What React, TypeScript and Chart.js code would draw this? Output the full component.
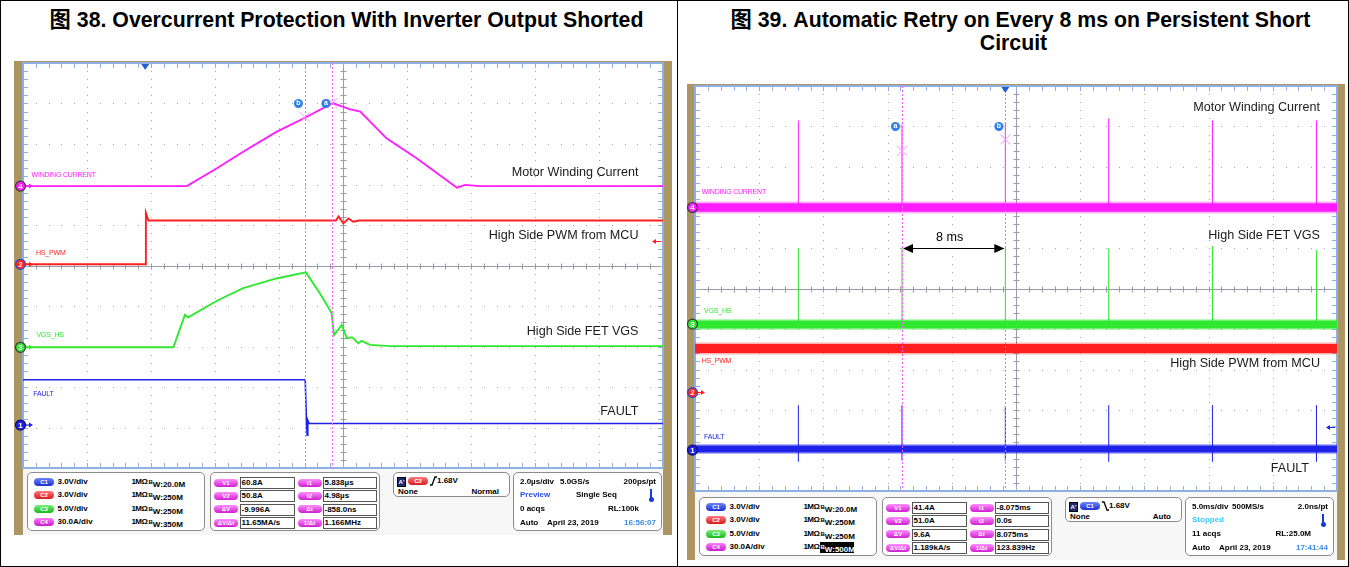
import React, { useEffect, useRef } from "react";
import { Chart, registerables } from "chart.js";

Chart.register(...registerables);

const FONT = '"Liberation Sans", Arial, Helvetica, "Noto Sans CJK SC", sans-serif';
const TAN = "#ab9663";
const MAGENTA = "#ff1cff";
const RED = "#ff1f1f";
const GREEN = "#30e830";
const BLUE = "#1f22e8";

// ---------------- Fig 38 : 2.0 µs/div, vertical position in divisions (0..10) ----------------
const f38TimeMax = 20;
const f38C4Time = [0, 5.12, 6.06, 6.88, 7.92, 8.84, 9.68, 10.2, 10.54, 11.36, 12.3, 13.56, 13.82, 14.28, 20];
const f38C4Level = [6.96, 6.96, 7.4, 7.81, 8.3, 8.66, 9.01, 8.86, 8.8, 8.14, 7.65, 6.92, 6.99, 6.96, 6.96];
const f38C2Time = [0, 3.84, 3.84, 3.92, 9.78, 9.86, 10.01, 10.17, 10.32, 10.5, 20];
const f38C2Level = [5.03, 5.03, 6.3, 6.11, 6.11, 6.21, 6.04, 6.16, 6.08, 6.11, 6.11];
const f38C3Time = [0, 4.7, 5.06, 5.16, 6.06, 6.88, 7.92, 8.84, 9.28, 9.64, 9.72, 9.96, 10.12, 10.28, 10.48, 10.58, 10.84, 11.5, 20];
const f38C3Level = [2.98, 2.98, 3.78, 3.72, 4.13, 4.44, 4.68, 4.83, 4.31, 3.83, 3.28, 3.53, 3.2, 3.23, 3.08, 3.14, 3.04, 3.01, 3.01];
const f38C1Time = [0, 8.82, 8.86, 8.88, 8.9, 8.94, 20];
const f38C1Level = [2.18, 2.18, 1.1, 0.81, 1.18, 1.1, 1.1];
const f38CursorTimes = [8.81, 9.67];
const f38CursorLabels = ["b", "a"];
const f38CursorLevels = [8.66, 9.01];
const f38ChannelLevels = [1.06, 5.03, 2.98, 6.96];
const f38TriggerTime = 3.82;
const f38TriggerLevel = 5.6;

// ---------------- Fig 39 : 5.0 ms/div ----------------
const f39TimeMax = 50;
const f39SpikeTimes = [8.05, 16.12, 24.17, 32.22, 40.3, 48.4];
const f39C4Base = 7.0;
const f39C4SpikeTop = [9.15, 9.05, 9.1, 9.2, 9.15, 9.15];
const f39C3Base = 4.11;
const f39C3SpikeTop = [6.0, 6.0, 6.0, 6.0, 6.05, 5.95];
const f39C2Base = 3.52;
const f39C1Base = 1.04;
const f39C1SpikeTop = [2.12, 2.12, 2.1, 2.12, 2.12, 2.12];
const f39C1SpikeBottom = [0.72, 0.75, 0.75, 0.72, 0.72, 0.72];
const f39CursorTimes = [16.12, 24.17];
const f39CursorLabels = ["a", "b"];
const f39CursorLevels = [8.4, 8.68];
const f39ChannelLevels = [1.01, 2.43, 4.12, 7.0];
const f39TriggerTime = 24.17;
const f39TriggerLevel = 1.59;
const f39MeasureFrom = 16.12;
const f39MeasureTo = 24.17;
const f39MeasureLevel = 6.01;

const CH_FILL = [BLUE, RED, GREEN, MAGENTA];
const CH_RING = ["#0b0b70", "#2a50d8", "#3a3a3a", "#3a3a3a"];

type ScopeCfg = {
  cursorTimes: number[];
  cursorLevels: number[];
  cursorLabels: string[];
  channelLevels: number[];
  triggerTime: number;
  triggerLevel: number;
  triggerColor: string;
  measure?: { from: number; to: number; level: number };
};

function pts(t: number[], v: number[]) {
  return t.map((x, i) => ({ x, y: v[i] }));
}

function spikes(t: number[], lo: number[] | number, hi: number[]) {
  const out: any[] = [];
  t.forEach((x, i) => {
    const l = Array.isArray(lo) ? lo[i] : lo;
    out.push({ x, y: l }, { x, y: hi[i] }, { x, y: null });
  });
  return out;
}

function makeScopePlugin(cfg: ScopeCfg) {
  return {
    id: "scope",
    beforeDatasetsDraw(chart: any) {
      const { ctx, chartArea: a, scales } = chart;
      const xs = scales.x;
      const ys = scales.y;
      const xAt = (i: number) => xs.getPixelForValue(xs.min + (i * (xs.max - xs.min)) / 10);
      const yAt = (j: number) => ys.getPixelForValue(ys.min + (j * (ys.max - ys.min)) / 10);
      ctx.save();
      ctx.fillStyle = "#ffffff";
      ctx.fillRect(a.left, a.top, a.right - a.left, a.bottom - a.top);
      // dotted graticule
      ctx.fillStyle = "#a4a4a4";
      for (let i = 1; i < 10; i++) {
        if (i === 5) continue;
        const px = Math.round(xAt(i));
        for (let k = 1; k < 50; k++) ctx.fillRect(px, Math.round(yAt(k / 5)), 1, 1);
        const py = Math.round(yAt(i));
        for (let k = 1; k < 50; k++) ctx.fillRect(Math.round(xAt(k / 5)), py, 1, 1);
      }
      // centre cross
      ctx.strokeStyle = "#9a9aac";
      ctx.lineWidth = 1;
      const cx = Math.round(xAt(5)) + 0.5;
      const cy = Math.round(yAt(5)) + 0.5;
      ctx.beginPath();
      ctx.moveTo(cx, a.top);
      ctx.lineTo(cx, a.bottom);
      ctx.moveTo(a.left, cy);
      ctx.lineTo(a.right, cy);
      for (let k = 1; k < 50; k++) {
        const px = Math.round(xAt(k / 5)) + 0.5;
        ctx.moveTo(px, cy - 3);
        ctx.lineTo(px, cy + 3);
        const py = Math.round(yAt(k / 5)) + 0.5;
        ctx.moveTo(cx - 3, py);
        ctx.lineTo(cx + 3, py);
      }
      ctx.stroke();
      // border with ticks
      ctx.strokeStyle = "#8fb0e2";
      ctx.beginPath();
      for (let k = 1; k < 50; k++) {
        const px = Math.round(xAt(k / 5)) + 0.5;
        ctx.moveTo(px, a.top);
        ctx.lineTo(px, a.top + 5);
        ctx.moveTo(px, a.bottom);
        ctx.lineTo(px, a.bottom - 5);
        const py = Math.round(yAt(k / 5)) + 0.5;
        ctx.moveTo(a.left, py);
        ctx.lineTo(a.left + 5, py);
        ctx.moveTo(a.right, py);
        ctx.lineTo(a.right - 5, py);
      }
      ctx.stroke();
      ctx.lineWidth = 2;
      ctx.strokeRect(a.left, a.top, a.right - a.left, a.bottom - a.top);
      ctx.restore();
    },
    afterDatasetsDraw(chart: any) {
      const { ctx, chartArea: a, scales } = chart;
      const xs = scales.x;
      const ys = scales.y;
      ctx.save();
      // cursors
      ctx.strokeStyle = "#ff5cff";
      ctx.lineWidth = 1;
      ctx.setLineDash([2, 2]);
      cfg.cursorTimes.forEach((t) => {
        const px = Math.round(xs.getPixelForValue(t)) + 0.5;
        ctx.beginPath();
        ctx.moveTo(px, a.top);
        ctx.lineTo(px, a.bottom);
        ctx.stroke();
      });
      ctx.setLineDash([]);
      ctx.strokeStyle = "#ff90ff";
      cfg.cursorTimes.forEach((t, i) => {
        const px = xs.getPixelForValue(t);
        const py = ys.getPixelForValue(cfg.cursorLevels[i]);
        const s = 5;
        ctx.beginPath();
        ctx.moveTo(px - s, py - s);
        ctx.lineTo(px + s, py + s);
        ctx.moveTo(px - s, py + s);
        ctx.lineTo(px + s, py - s);
        ctx.stroke();
      });
      cfg.cursorTimes.forEach((t, i) => {
        const px = xs.getPixelForValue(t) - 6.5;
        const py = ys.getPixelForValue(9);
        ctx.beginPath();
        ctx.arc(px, py, 4.5, 0, Math.PI * 2);
        ctx.fillStyle = "#2f7fe8";
        ctx.fill();
        ctx.fillStyle = "#ffffff";
        ctx.font = "bold 7px " + FONT;
        ctx.textAlign = "center";
        ctx.textBaseline = "middle";
        ctx.fillText(cfg.cursorLabels[i], px, py);
      });
      // trigger position marker
      const tx = xs.getPixelForValue(cfg.triggerTime);
      ctx.fillStyle = "#1f5fd8";
      ctx.beginPath();
      ctx.moveTo(tx - 4, a.top + 1);
      ctx.lineTo(tx + 4, a.top + 1);
      ctx.lineTo(tx, a.top + 7);
      ctx.closePath();
      ctx.fill();
      // trigger level arrow
      const ty = Math.round(ys.getPixelForValue(cfg.triggerLevel)) + 0.5;
      ctx.strokeStyle = cfg.triggerColor;
      ctx.fillStyle = cfg.triggerColor;
      ctx.beginPath();
      ctx.moveTo(a.right - 2, ty);
      ctx.lineTo(a.right - 8, ty);
      ctx.stroke();
      ctx.beginPath();
      ctx.moveTo(a.right - 11, ty);
      ctx.lineTo(a.right - 7, ty - 2.5);
      ctx.lineTo(a.right - 7, ty + 2.5);
      ctx.closePath();
      ctx.fill();
      // channel badges
      cfg.channelLevels.forEach((lv, i) => {
        const py = ys.getPixelForValue(lv);
        const bx = a.left - 2.5;
        ctx.fillStyle = CH_FILL[i];
        ctx.strokeStyle = CH_FILL[i];
        ctx.lineWidth = 1.2;
        ctx.beginPath();
        ctx.moveTo(a.left + 1, py);
        ctx.lineTo(a.left + 7, py);
        ctx.stroke();
        ctx.beginPath();
        ctx.moveTo(a.left + 10, py);
        ctx.lineTo(a.left + 6, py - 2.5);
        ctx.lineTo(a.left + 6, py + 2.5);
        ctx.closePath();
        ctx.fill();
        ctx.beginPath();
        ctx.arc(bx, py, 5, 0, Math.PI * 2);
        ctx.fill();
        ctx.strokeStyle = CH_RING[i];
        ctx.lineWidth = 1.2;
        ctx.stroke();
        ctx.fillStyle = "#ffffff";
        ctx.font = "bold 8px " + FONT;
        ctx.textAlign = "center";
        ctx.textBaseline = "middle";
        ctx.fillText(String(i + 1), bx, py + 0.5);
      });
      // measurement arrow
      if (cfg.measure) {
        const m = cfg.measure;
        const x1 = xs.getPixelForValue(m.from);
        const x2 = xs.getPixelForValue(m.to);
        const my = Math.round(ys.getPixelForValue(m.level)) + 0.5;
        ctx.strokeStyle = "#000";
        ctx.fillStyle = "#000";
        ctx.lineWidth = 1;
        ctx.beginPath();
        ctx.moveTo(x1 + 8, my);
        ctx.lineTo(x2 - 8, my);
        ctx.stroke();
        ctx.beginPath();
        ctx.moveTo(x1 + 1, my);
        ctx.lineTo(x1 + 11, my - 4.5);
        ctx.lineTo(x1 + 11, my + 4.5);
        ctx.closePath();
        ctx.fill();
        ctx.beginPath();
        ctx.moveTo(x2 - 1, my);
        ctx.lineTo(x2 - 11, my - 4.5);
        ctx.lineTo(x2 - 11, my + 4.5);
        ctx.closePath();
        ctx.fill();
      }
      ctx.restore();
    },
  };
}

function ScopeChart(props: {
  left: number;
  top: number;
  width: number;
  height: number;
  padding: { left: number; right: number; top: number; bottom: number };
  xMax: number;
  datasets: any[];
  cfg: ScopeCfg;
}) {
  const ref = useRef<HTMLCanvasElement>(null);
  useEffect(() => {
    const chart = new Chart(ref.current as HTMLCanvasElement, {
      type: "line",
      data: { datasets: props.datasets },
      options: {
        animation: false,
        responsive: false,
        maintainAspectRatio: false,
        events: [],
        layout: { padding: props.padding },
        plugins: { legend: { display: false }, tooltip: { enabled: false } },
        elements: { point: { radius: 0 }, line: { tension: 0 } },
        scales: {
          x: { type: "linear", min: 0, max: props.xMax, display: false },
          y: { type: "linear", min: 0, max: 10, display: false },
        },
      },
      plugins: [makeScopePlugin(props.cfg)],
    } as any);
    return () => chart.destroy();
  }, []);
  return (
    <canvas
      ref={ref}
      width={props.width}
      height={props.height}
      style={{ position: "absolute", left: props.left, top: props.top, width: props.width, height: props.height }}
    />
  );
}

const line = (data: any[], color: string, width: number) => ({
  data,
  borderColor: color,
  borderWidth: width,
  pointRadius: 0,
  fill: false,
  spanGaps: false,
  borderCapStyle: "butt",
});

const flat = (lv: number, max: number) => [
  { x: 0, y: lv },
  { x: max, y: lv },
];

function T(p: { x: number; y: number; s: number; c?: string; b?: boolean; right?: boolean; children: any; ls?: number }) {
  const st: any = {
    position: "absolute",
    top: p.y - p.s,
    height: p.s * 2,
    lineHeight: p.s * 2 + "px",
    fontSize: p.s,
    color: p.c || "#000",
    fontWeight: p.b ? "bold" : "normal",
    whiteSpace: "nowrap",
    letterSpacing: p.ls ?? 0,
  };
  if (p.right) st.right = 1349 - p.x;
  else st.left = p.x;
  return <div style={st}>{p.children}</div>;
}

function R(p: { r: number; y: number; c?: string; children: any }) {
  return (
    <div
      style={{
        position: "absolute",
        right: p.r,
        top: p.y - 8,
        lineHeight: "16px",
        fontSize: 8,
        fontWeight: "bold",
        whiteSpace: "nowrap",
        color: p.c || "#000",
      }}
    >
      {p.children}
    </div>
  );
}

function Pill(p: { x: number; y: number; w: number; text: string; color: string; light: string }) {
  return (
    <div
      style={{
        position: "absolute",
        left: p.x,
        top: p.y - 4,
        width: p.w,
        height: 8,
        borderRadius: 4,
        background: `linear-gradient(${p.light}, ${p.color})`,
        color: "#fff",
        fontSize: 6,
        fontWeight: "bold",
        textAlign: "center",
        lineHeight: "8px",
      }}
    >
      {p.text}
    </div>
  );
}

const PILL = {
  C1: ["#1b2fd0", "#6b86ff"],
  C2: ["#d81a1a", "#ff7a7a"],
  C3: ["#17b817", "#7af07a"],
  C4: ["#c81ac8", "#ff7aff"],
};

type InfoCfg = {
  ox: number;
  oy: number;
  bw: string[];
  bwHi: boolean;
  meas: string[][];
  trigCh: "C1" | "C2";
  trigEdge: "rise" | "fall";
  trigMode: string;
  tdiv: string;
  rate: string;
  res: string;
  status: string;
  statusColor: string;
  seq: string;
  acqs: string;
  rl: string;
  time: string;
};

function Box(p: { x: number; y: number; w: number; h: number; children?: any }) {
  return (
    <div
      style={{
        position: "absolute",
        left: p.x,
        top: p.y,
        width: p.w,
        height: p.h,
        border: "1px solid #8c8c8c",
        borderRadius: 5,
        background: "#ffffff",
        boxSizing: "border-box",
      }}
    >
      {p.children}
    </div>
  );
}

const CH_SCALE = ["3.0V/div", "3.0V/div", "5.0V/div", "30.0A/div"];
const CH_KEYS: ("C1" | "C2" | "C3" | "C4")[] = ["C1", "C2", "C3", "C4"];

function BW({ v }: { v: string }) {
  return (
    <>
      <span style={{ fontSize: 6, verticalAlign: 3 }}>B</span>
      <span style={{ fontSize: 8 }}>W</span>:{v}
    </>
  );
}

function InfoPanel({ cfg }: { cfg: InfoCfg }) {
  const ox = cfg.ox;
  const oy = cfg.oy;
  const rowY = [9, 22.3, 35.7, 49];
  const valTop = [4, 17.3, 30.7, 44];
  const r4 = [8.7, 22, 35.7, 49.7];
  const valStyle: any = {
    position: "absolute",
    height: 12,
    border: "1px solid #555",
    boxSizing: "border-box",
    fontSize: 8,
    fontWeight: "bold",
    lineHeight: "10px",
    paddingLeft: 1,
    whiteSpace: "nowrap",
  };
  return (
    <>
      <Box x={ox + 27} y={oy + 472} w={178} h={59}>
        {CH_KEYS.map((k, i) => (
          <React.Fragment key={k}>
            <Pill x={6} y={rowY[i]} w={20} text={k} color={PILL[k][0]} light={PILL[k][1]} />
            <T x={29.5} y={rowY[i]} s={8} b>
              {CH_SCALE[i]}
            </T>
            <T x={103.5} y={rowY[i]} s={8} b ls={-0.6}>
              1MΩ
            </T>
            {i === 3 && cfg.bwHi ? (
              <div
                style={{
                  position: "absolute",
                  left: 119.5,
                  top: rowY[i] - 5.5,
                  height: 11,
                  width: 34,
                  background: "#000",
                  color: "#fff",
                  fontSize: 8,
                  fontWeight: "bold",
                  lineHeight: "11px",
                  paddingLeft: 1,
                  boxSizing: "border-box",
                  whiteSpace: "nowrap",
                }}
              >
                <BW v={cfg.bw[i]} />
              </div>
            ) : (
              <T x={120.5} y={rowY[i]} s={8} b>
                <BW v={cfg.bw[i]} />
              </T>
            )}
          </React.Fragment>
        ))}
      </Box>
      <Box x={ox + 210} y={oy + 472} w={170} h={59}>
        {cfg.meas.map((m, i) => (
          <React.Fragment key={i}>
            <Pill x={3} y={valTop[i] + 5.5} w={24} text={m[0]} color="#cf1fcf" light="#ff8cff" />
            <div style={{ ...valStyle, left: 28.5, top: valTop[i], width: 55 }}>{m[1]}</div>
            <Pill x={86.5} y={valTop[i] + 5.5} w={24} text={m[2]} color="#cf1fcf" light="#ff8cff" />
            <div style={{ ...valStyle, left: 111.5, top: valTop[i], width: 54 }}>{m[3]}</div>
          </React.Fragment>
        ))}
      </Box>
      <Box x={ox + 393} y={oy + 472} w={117} h={25}>
        <div
          style={{
            position: "absolute",
            left: 3,
            top: 4,
            width: 7,
            height: 8,
            background: "#1a2a70",
            border: "1px solid #000",
            color: "#fff",
            fontSize: 6,
            fontWeight: "bold",
            lineHeight: "8px",
            textAlign: "center",
          }}
        >
          A'
        </div>
        <Pill x={14} y={8.2} w={20} text={cfg.trigCh} color={PILL[cfg.trigCh][0]} light={PILL[cfg.trigCh][1]} />
        <svg style={{ position: "absolute", left: 36, top: 3 }} width={7} height={10}>
          {cfg.trigEdge === "rise" ? (
            <polyline points="0,9 2,9 5,1 7,1" fill="none" stroke="#000" strokeWidth={1.3} />
          ) : (
            <polyline points="0,1 2,1 5,9 7,9" fill="none" stroke="#000" strokeWidth={1.3} />
          )}
        </svg>
        <T x={43} y={8.2} s={8} b>
          1.68V
        </T>
        <T x={4} y={18.7} s={8} b>
          None
        </T>
        <R r={10} y={18.7}>
          {cfg.trigMode}
        </R>
      </Box>
      <Box x={ox + 513} y={oy + 472} w={149} h={59}>
        <T x={6} y={r4[0]} s={8} b>
          {cfg.tdiv}
        </T>
        <T x={46} y={r4[0]} s={8} b>
          {cfg.rate}
        </T>
        <R r={5} y={r4[0]}>
          {cfg.res}
        </R>
        <T x={6} y={r4[1]} s={8} b c={cfg.statusColor}>
          {cfg.status}
        </T>
        <T x={62} y={r4[1]} s={8} b>
          {cfg.seq}
        </T>
        <div style={{ position: "absolute", left: 136, top: r4[1] - 6, width: 2, height: 9, background: "#1a3ad8" }} />
        <div
          style={{
            position: "absolute",
            left: 134.5,
            top: r4[1] + 1.5,
            width: 5,
            height: 5,
            borderRadius: 3,
            background: "#1a3ad8",
          }}
        />
        <T x={6} y={r4[2]} s={8} b>
          {cfg.acqs}
        </T>
        <R r={22} y={r4[2]}>
          {cfg.rl}
        </R>
        <T x={6} y={r4[3]} s={8} b>
          Auto
        </T>
        <T x={33} y={r4[3]} s={8} b>
          April 23, 2019
        </T>
        <R r={5} y={r4[3]} c="#3a8ee6">
          {cfg.time}
        </R>
      </Box>
    </>
  );
}

const leftInfo: InfoCfg = {
  ox: 0,
  oy: 0,
  bw: ["20.0M", "250M", "250M", "350M"],
  bwHi: false,
  meas: [
    ["V1", "60.8A", "t1", "5.838µs"],
    ["V2", "50.8A", "t2", "4.98µs"],
    ["ΔV", "-9.996A", "Δt", "-858.0ns"],
    ["ΔV/Δt", "11.65MA/s", "1/Δt", "1.166MHz"],
  ],
  trigCh: "C2",
  trigEdge: "rise",
  trigMode: "Normal",
  tdiv: "2.0µs/div",
  rate: "5.0GS/s",
  res: "200ps/pt",
  status: "Preview",
  statusColor: "#2b4de8",
  seq: "Single Seq",
  acqs: "0 acqs",
  rl: "RL:100k",
  time: "16:56:07",
};

const rightInfo: InfoCfg = {
  ox: 672,
  oy: 25,
  bw: ["20.0M", "250M", "250M", "500M"],
  bwHi: true,
  meas: [
    ["V1", "41.4A", "t1", "-8.075ms"],
    ["V2", "51.0A", "t2", "0.0s"],
    ["ΔV", "9.6A", "Δt", "8.075ms"],
    ["ΔV/Δt", "1.189kA/s", "1/Δt", "123.839Hz"],
  ],
  trigCh: "C1",
  trigEdge: "fall",
  trigMode: "Auto",
  tdiv: "5.0ms/div",
  rate: "500MS/s",
  res: "2.0ns/pt",
  status: "Stopped",
  statusColor: "#3cc8ff",
  seq: "",
  acqs: "11 acqs",
  rl: "RL:25.0M",
  time: "17:41:44",
};

export default function App() {
  const leftDatasets = [
    line(pts(f38C1Time, f38C1Level), BLUE, 1.6),
    line(pts(f38C2Time, f38C2Level), RED, 1.9),
    line(pts(f38C3Time, f38C3Level), GREEN, 1.9),
    line(pts(f38C4Time, f38C4Level), MAGENTA, 1.9),
  ];
  const rightDatasets = [
    line(spikes(f39SpikeTimes, f39C1SpikeBottom, f39C1SpikeTop), BLUE, 1),
    line(flat(f39C1Base, f39TimeMax), "rgba(31,34,232,0.35)", 10),
    line(flat(f39C1Base, f39TimeMax), BLUE, 7),
    line(flat(f39C2Base, f39TimeMax), "rgba(255,31,31,0.35)", 12),
    line(flat(f39C2Base, f39TimeMax), RED, 9),
    line(spikes(f39SpikeTimes, f39C3Base, f39C3SpikeTop), GREEN, 1),
    line(flat(f39C3Base, f39TimeMax), "rgba(48,232,48,0.35)", 11),
    line(flat(f39C3Base, f39TimeMax), GREEN, 8),
    line(spikes(f39SpikeTimes, f39C4Base, f39C4SpikeTop), MAGENTA, 1),
    line(flat(f39C4Base, f39TimeMax), "rgba(255,28,255,0.35)", 12),
    line(flat(f39C4Base, f39TimeMax), MAGENTA, 8.5),
  ];
  const leftCfg: ScopeCfg = {
    cursorTimes: f38CursorTimes,
    cursorLevels: f38CursorLevels,
    cursorLabels: f38CursorLabels,
    channelLevels: f38ChannelLevels,
    triggerTime: f38TriggerTime,
    triggerLevel: f38TriggerLevel,
    triggerColor: RED,
  };
  const rightCfg: ScopeCfg = {
    cursorTimes: f39CursorTimes,
    cursorLevels: f39CursorLevels,
    cursorLabels: f39CursorLabels,
    channelLevels: f39ChannelLevels,
    triggerTime: f39TriggerTime,
    triggerLevel: f39TriggerLevel,
    triggerColor: BLUE,
    measure: { from: f39MeasureFrom, to: f39MeasureTo, level: f39MeasureLevel },
  };
  const lbl = 7;
  const ann = 12.6;
  const titleStyle: any = {
    position: "absolute",
    textAlign: "center",
    fontSize: 21.3,
    fontWeight: "bold",
    lineHeight: "23px",
    whiteSpace: "nowrap",
  };
  return (
    <div
      style={{
        position: "absolute",
        left: 0,
        top: 0,
        width: 1349,
        height: 567,
        background: "#fff",
        overflow: "hidden",
        fontFamily: FONT,
      }}
    >
      {/* table rules */}
      <div style={{ position: "absolute", left: 0, top: 0, width: 1349, height: 1, background: "#000" }} />
      <div style={{ position: "absolute", left: 0, top: 566, width: 1349, height: 1, background: "#000" }} />
      <div style={{ position: "absolute", left: 0, top: 0, width: 1, height: 567, background: "#000" }} />
      <div style={{ position: "absolute", left: 677, top: 0, width: 1, height: 567, background: "#000" }} />
      <div style={{ position: "absolute", left: 1348, top: 0, width: 1, height: 567, background: "#000" }} />

      {/* titles */}
      <div style={{ ...titleStyle, left: 8, top: 9, width: 677 }}>
        图 38. Overcurrent Protection With Inverter Output Shorted
      </div>
      <div style={{ ...titleStyle, left: 685, top: 9, width: 671 }}>
        图 39. Automatic Retry on Every 8 ms on Persistent Short
      </div>
      <div style={{ ...titleStyle, left: 678, top: 32, width: 671 }}>Circuit</div>

      {/* left scope frame */}
      <div style={{ position: "absolute", left: 14, top: 61, width: 658, height: 474, background: TAN }} />
      <div style={{ position: "absolute", left: 23, top: 468, width: 640, height: 67, background: "#f7f7f7" }} />
      <ScopeChart
        left={14}
        top={60}
        width={658}
        height={411}
        padding={{ left: 9, right: 9, top: 3, bottom: 3 }}
        xMax={f38TimeMax}
        datasets={leftDatasets}
        cfg={leftCfg}
      />
      <T x={31.5} y={175} s={lbl} c={MAGENTA} ls={-0.2}>
        WINDING CURRENT
      </T>
      <T x={36} y={252.7} s={lbl} c={RED} ls={-0.2}>
        HS_PWM
      </T>
      <T x={36.5} y={335} s={lbl} c={GREEN} ls={-0.2}>
        VGS_HS
      </T>
      <T x={33.3} y={394.3} s={lbl} c={BLUE} ls={-0.2}>
        FAULT
      </T>
      <T x={638.5} y={172.3} s={ann} c="#1a1a1a" right>
        Motor Winding Current
      </T>
      <T x={638.5} y={236} s={ann} c="#1a1a1a" right>
        High Side PWM from MCU
      </T>
      <T x={638.5} y={331.7} s={ann} c="#1a1a1a" right>
        High Side FET VGS
      </T>
      <T x={638.5} y={412} s={ann} c="#1a1a1a" right>
        FAULT
      </T>
      <InfoPanel cfg={leftInfo} />

      {/* right scope frame */}
      <div style={{ position: "absolute", left: 687, top: 84, width: 658, height: 476, background: TAN }} />
      <div style={{ position: "absolute", left: 695, top: 491, width: 642, height: 69, background: "#f7f7f7" }} />
      <ScopeChart
        left={687}
        top={83}
        width={658}
        height={411}
        padding={{ left: 8, right: 8, top: 3, bottom: 3 }}
        xMax={f39TimeMax}
        datasets={rightDatasets}
        cfg={rightCfg}
      />
      <T x={701.7} y={192.3} s={lbl} c={MAGENTA} ls={-0.2}>
        WINDING CURRENT
      </T>
      <T x={704} y={310.7} s={lbl} c={GREEN} ls={-0.2}>
        VGS_HS
      </T>
      <T x={701.7} y={360.7} s={lbl} c={RED} ls={-0.2}>
        HS_PWM
      </T>
      <T x={704} y={436.7} s={lbl} c={BLUE} ls={-0.2}>
        FAULT
      </T>
      <T x={1320} y={107.3} s={ann} c="#1a1a1a" right>
        Motor Winding Current
      </T>
      <T x={1320} y={236} s={ann} c="#1a1a1a" right>
        High Side FET VGS
      </T>
      <T x={1320} y={364} s={ann} c="#1a1a1a" right>
        High Side PWM from MCU
      </T>
      <T x={1309} y={469} s={ann} c="#1a1a1a" right>
        FAULT
      </T>
      <T x={936} y={237.3} s={ann} c="#000">
        8 ms
      </T>
      <InfoPanel cfg={rightInfo} />
    </div>
  );
}
